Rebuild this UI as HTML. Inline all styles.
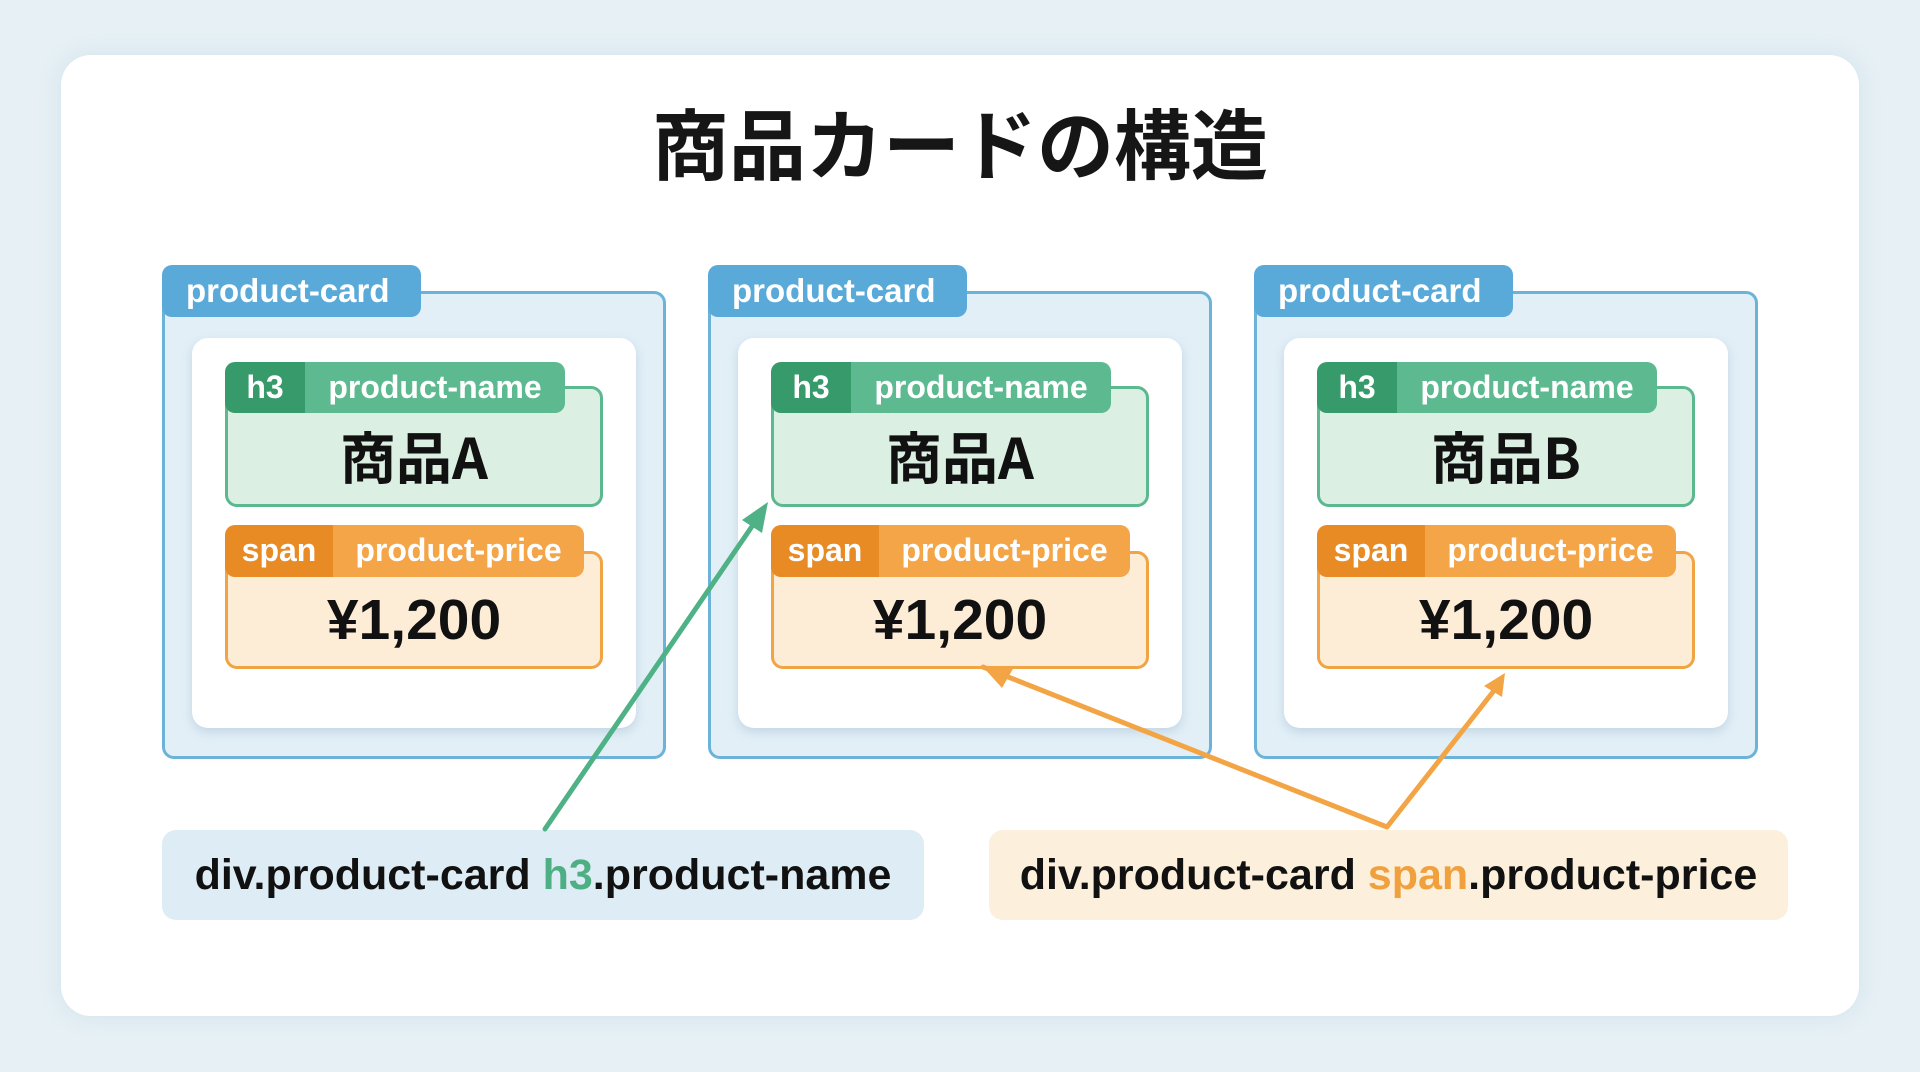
<!DOCTYPE html>
<html><head><meta charset="utf-8"><style>
*{margin:0;padding:0;box-sizing:border-box}
body{width:1920px;height:1072px;background:#e6f0f5;position:relative;overflow:hidden;font-family:"Liberation Sans","Noto Sans CJK JP",sans-serif}
.panel{position:absolute;left:61px;top:55px;width:1798px;height:961px;background:#fff;border-radius:30px;box-shadow:0 0 20px rgba(150,190,210,.25)}
.title{position:absolute;left:0;width:1920px;top:86px;text-align:center;font-size:77px;font-weight:bold;color:#161616;font-family:"Noto Sans CJK JP",sans-serif}
.a{position:absolute}
.card{border:3px solid #6cb3d9;border-radius:12px;background:#e2eff7}
.tab{background:#5aaad9;color:#fff;border-radius:10px;font-size:33px;font-weight:bold;padding-left:24px;line-height:52px}
.inner{background:#fff;border-radius:16px;box-shadow:0 4px 10px rgba(100,140,170,.25)}
.gbody{border:3px solid #5bb88f;background:#dbf0e3;border-radius:12px}
.obody{border:3px solid #f0a444;background:#fdecd6;border-radius:12px}
.tag{color:#fff;font-size:32px;font-weight:bold;line-height:51px;text-align:center;white-space:nowrap}
.big{font-size:56px;font-weight:bold;color:#111;text-align:center;font-family:"Noto Sans CJK JP",sans-serif}
.price{font-size:57px;font-family:"Liberation Sans","Noto Sans CJK JP",sans-serif}
.sel{font-size:43px;font-weight:bold;color:#111;line-height:90px;text-align:center;border-radius:14px;white-space:nowrap}
</style></head><body>
<div class="panel"></div>
<div class="title">商品カードの構造</div>

<!-- card 1 -->
<div class="a card" style="left:162px;top:291px;width:504px;height:468px"></div>
<div class="a tab" style="left:162px;top:265px;width:259px;height:52px">product-card</div>
<div class="a inner" style="left:192px;top:338px;width:444px;height:390px"></div>
<div class="a gbody" style="left:225px;top:386px;width:378px;height:121px"></div>
<div class="a tag" style="left:225px;top:362px;width:80px;height:51px;background:#369a6b;border-radius:10px 0 0 10px">h3</div>
<div class="a tag" style="left:305px;top:362px;width:260px;height:51px;background:#5db98f;border-radius:0 10px 10px 0">product-name</div>
<div class="a big" style="left:225px;top:420px;width:378px;line-height:72px">商品A</div>
<div class="a obody" style="left:225px;top:551px;width:378px;height:118px"></div>
<div class="a tag" style="left:225px;top:525px;width:108px;height:52px;background:#e98b25;border-radius:10px 0 0 10px">span</div>
<div class="a tag" style="left:333px;top:525px;width:251px;height:52px;background:#f3a548;border-radius:0 10px 10px 0">product-price</div>
<div class="a big price" style="left:225px;top:584px;width:378px;line-height:72px">¥1,200</div>

<!-- card 2 -->
<div class="a card" style="left:708px;top:291px;width:504px;height:468px"></div>
<div class="a tab" style="left:708px;top:265px;width:259px;height:52px">product-card</div>
<div class="a inner" style="left:738px;top:338px;width:444px;height:390px"></div>
<div class="a gbody" style="left:771px;top:386px;width:378px;height:121px"></div>
<div class="a tag" style="left:771px;top:362px;width:80px;height:51px;background:#369a6b;border-radius:10px 0 0 10px">h3</div>
<div class="a tag" style="left:851px;top:362px;width:260px;height:51px;background:#5db98f;border-radius:0 10px 10px 0">product-name</div>
<div class="a big" style="left:771px;top:420px;width:378px;line-height:72px">商品A</div>
<div class="a obody" style="left:771px;top:551px;width:378px;height:118px"></div>
<div class="a tag" style="left:771px;top:525px;width:108px;height:52px;background:#e98b25;border-radius:10px 0 0 10px">span</div>
<div class="a tag" style="left:879px;top:525px;width:251px;height:52px;background:#f3a548;border-radius:0 10px 10px 0">product-price</div>
<div class="a big price" style="left:771px;top:584px;width:378px;line-height:72px">¥1,200</div>

<!-- card 3 -->
<div class="a card" style="left:1254px;top:291px;width:504px;height:468px"></div>
<div class="a tab" style="left:1254px;top:265px;width:259px;height:52px">product-card</div>
<div class="a inner" style="left:1284px;top:338px;width:444px;height:390px"></div>
<div class="a gbody" style="left:1317px;top:386px;width:378px;height:121px"></div>
<div class="a tag" style="left:1317px;top:362px;width:80px;height:51px;background:#369a6b;border-radius:10px 0 0 10px">h3</div>
<div class="a tag" style="left:1397px;top:362px;width:260px;height:51px;background:#5db98f;border-radius:0 10px 10px 0">product-name</div>
<div class="a big" style="left:1317px;top:420px;width:378px;line-height:72px">商品B</div>
<div class="a obody" style="left:1317px;top:551px;width:378px;height:118px"></div>
<div class="a tag" style="left:1317px;top:525px;width:108px;height:52px;background:#e98b25;border-radius:10px 0 0 10px">span</div>
<div class="a tag" style="left:1425px;top:525px;width:251px;height:52px;background:#f3a548;border-radius:0 10px 10px 0">product-price</div>
<div class="a big price" style="left:1317px;top:584px;width:378px;line-height:72px">¥1,200</div>

<!-- selector boxes -->
<div class="a sel" style="left:162px;top:830px;width:762px;height:90px;background:#deedf5">div.product-card <span style="color:#4eae84">h3</span>.product-name</div>
<div class="a sel" style="left:989px;top:830px;width:799px;height:90px;background:#fcefdc">div.product-card <span style="color:#f0a03c">span</span>.product-price</div>

<svg class="a" style="left:0;top:0" width="1920" height="1072">
<g stroke-width="5" fill="none" stroke-linecap="round" stroke-linejoin="round">
<line x1="545" y1="829" x2="755" y2="522" stroke="#4fb286"/>
<polyline points="983,667 1387,827 1500,683" stroke="#f3a545"/>
</g>
<polygon points="768,502 742,520 762,533" fill="#4fb286"/>
<polygon points="983,667 1014,667 1002,688" fill="#f3a545"/>
<polygon points="1505,673 1484,686 1502,697" fill="#f3a545"/>
</svg>
</body></html>
